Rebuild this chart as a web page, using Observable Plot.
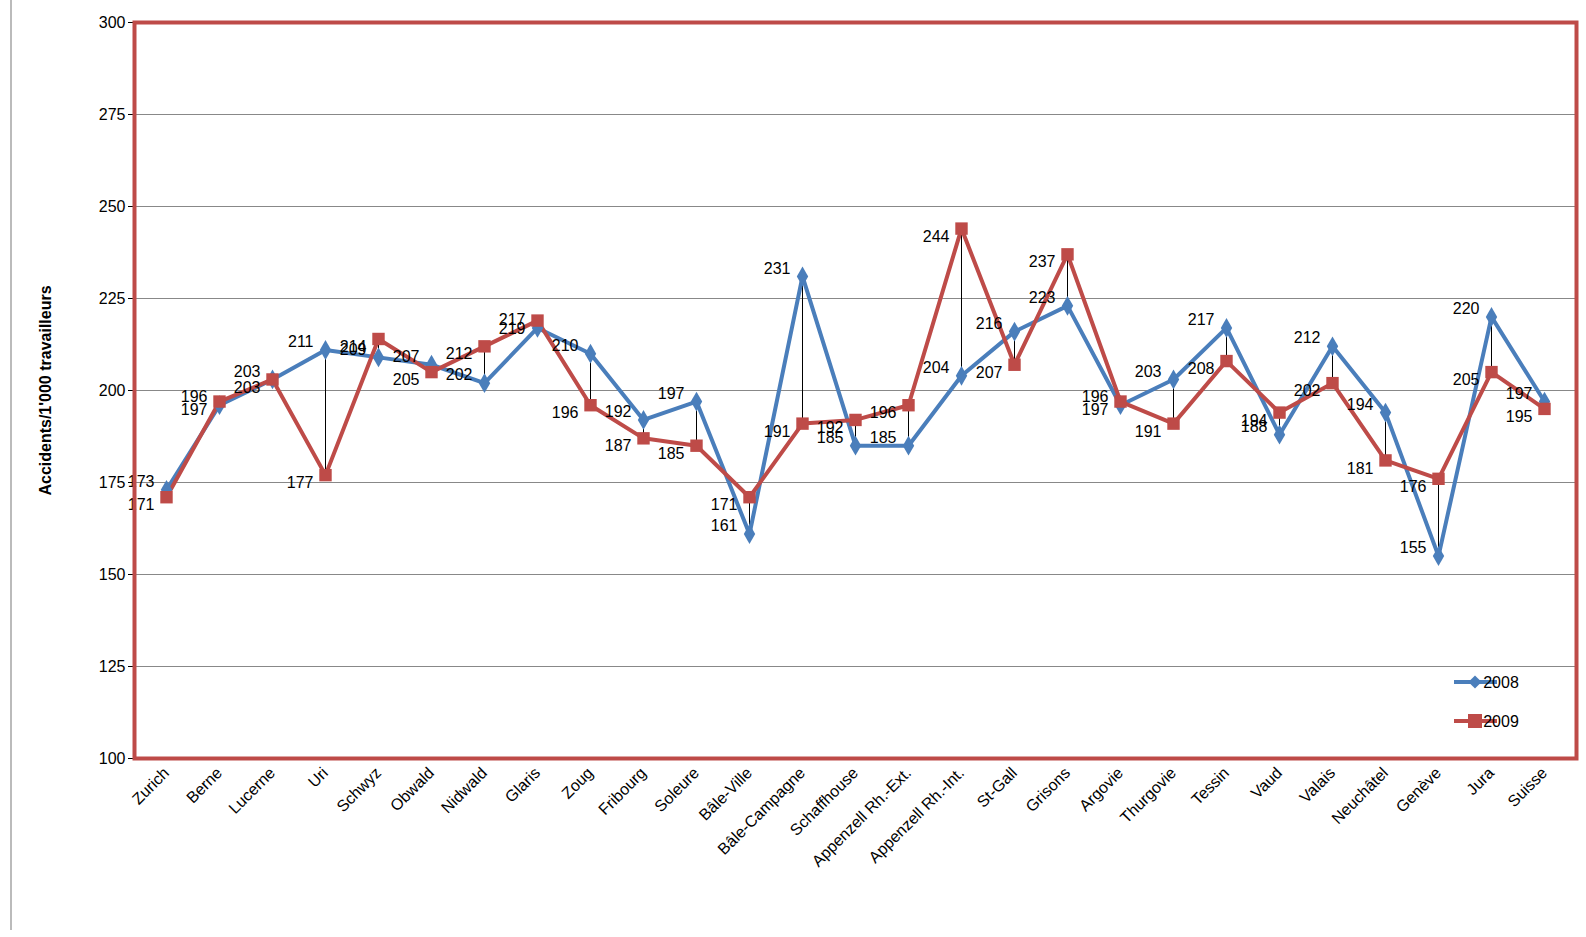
<!DOCTYPE html>
<html><head><meta charset="utf-8">
<script src="https://cdn.jsdelivr.net/npm/d3@7"></script>
<script src="https://cdn.jsdelivr.net/npm/@observablehq/plot@0.6"></script>
<style>body{margin:0;background:#fff;font-family:"Liberation Sans",Arial,sans-serif}
#chart{border-left:2px solid #bbb;margin-left:10px;width:1574px}</style>
</head><body><div id="chart"></div>
<script>
const cantons = ['Zurich','Berne','Lucerne','Uri','Schwyz','Obwald','Nidwald','Glaris','Zoug','Fribourg','Soleure','Bâle-Ville','Bâle-Campagne','Schaffhouse','Appenzell Rh.-Ext.','Appenzell Rh.-Int.','St-Gall','Grisons','Argovie','Thurgovie','Tessin','Vaud','Valais','Neuchâtel','Genève','Jura','Suisse']
const v2008 = [173,196,203,211,209,207,202,217,210,192,197,161,231,185,185,204,216,223,196,203,217,188,212,194,155,220,197]
const v2009 = [171,197,203,177,214,205,212,219,196,187,185,171,191,192,196,244,207,237,197,191,208,194,202,181,176,205,195]

const d2008 = cantons.map((c, i) => ({canton: c, value: v2008[i]}))
const d2009 = cantons.map((c, i) => ({canton: c, value: v2009[i]}))
const pairs = cantons.map((c, i) => ({canton: c, a: v2008[i], b: v2009[i]}))
const colors = {'2008': '#4a7ebb', '2009': '#be4b48'}

let chart = Plot.plot({
  width: 1574, height: 930,
  marginLeft: 122, marginRight: 10, marginTop: 22, marginBottom: 172,
  style: {fontSize: '16px', fontFamily: '"Liberation Sans",Arial,sans-serif', background: '#fff'},
  x: {domain: cantons, padding: 0.5, label: null, tickRotate: -45, tickSize: 0},
  y: {domain: [100, 300], ticks: d3.range(100, 301, 25), label: "Accidents/1'000 travailleurs", labelArrow: 'none', labelAnchor: 'center', labelOffset: 95, tickSize: 6},
  marks: [
    Plot.gridY(d3.range(125, 300, 25), {stroke: '#888', strokeOpacity: 1}),
    Plot.ruleX(pairs, {x: 'canton', y1: 'a', y2: 'b', stroke: 'black', strokeWidth: 1}),
    Plot.line(d2008, {x: 'canton', y: 'value', stroke: colors['2008'], strokeWidth: 4}),
    Plot.line(d2009, {x: 'canton', y: 'value', stroke: colors['2009'], strokeWidth: 4}),
    Plot.dot(d2008, {x: 'canton', y: 'value', symbol: 'diamond', r: 6, fill: colors['2008']}),
    Plot.dot(d2009, {x: 'canton', y: 'value', symbol: 'square', r: 7, fill: colors['2009']}),
    Plot.text(d2008, {x: 'canton', y: 'value', text: 'value', dx: -12, dy: -8, textAnchor: 'end', fill: 'black', fontSize: 16}),
    Plot.text(d2009, {x: 'canton', y: 'value', text: 'value', dx: -12, dy: 8, textAnchor: 'end', fill: 'black', fontSize: 16}),
    Plot.frame({stroke: '#be4b48', strokeWidth: 4})
  ]
})

// legend inside plot
const svg = d3.select(chart)
const lg = svg.append('g').attr('font-size', 16)
;['2008', '2009'].forEach((y, k) => {
  const py = 682 + 39 * k
  lg.append('line').attr('x1', 1442).attr('x2', 1485).attr('y1', py).attr('y2', py).attr('stroke', colors[y]).attr('stroke-width', 4)
  if (y === '2008') lg.append('path').attr('d', d3.symbol(d3.symbolDiamond2, 110)()).attr('transform', `translate(1463,${py})`).attr('fill', colors[y])
  else lg.append('rect').attr('x', 1456).attr('y', py - 7).attr('width', 14).attr('height', 14).attr('fill', colors[y])
  lg.append('text').attr('x', 1489).attr('y', py + 6).text(y)
})
svg.select('[aria-label="y-axis label"]').attr('font-weight', 'bold')

d3.select('#chart').append(() => chart)
</script></body></html>
